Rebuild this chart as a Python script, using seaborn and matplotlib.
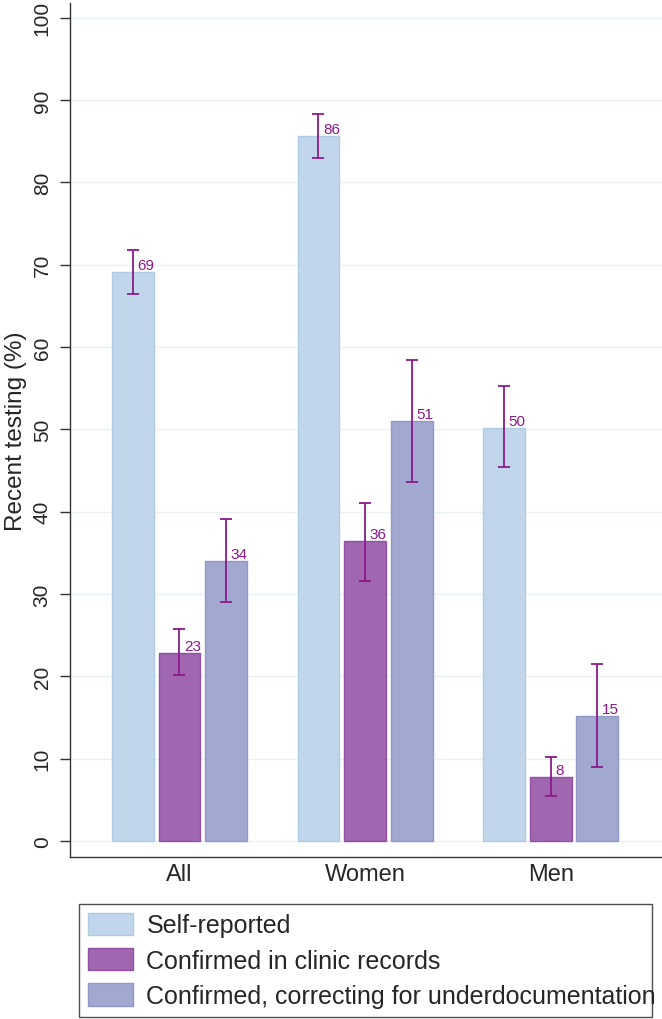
import numpy as np
import pandas as pd
import seaborn as sns
import matplotlib.pyplot as plt

# valori (percentuali e intervalli di confidenza)
groups = ["All", "Women", "Men"]
series = ["Self-reported",
          "Confirmed in clinic records",
          "Confirmed, correcting for underdocumentation"]

self_reported = [69.1, 85.6, 50.2]
self_lo = [66.5, 83.0, 45.4]
self_hi = [71.8, 88.3, 55.3]

clinic = [22.8, 36.4, 7.8]
clinic_lo = [20.2, 31.6, 5.5]
clinic_hi = [25.8, 41.1, 10.2]

corrected = [34.0, 51.0, 15.2]
corrected_lo = [29.0, 43.6, 9.0]
corrected_hi = [39.1, 58.4, 21.5]

yticks = list(range(0, 101, 10))

colors = ["#C1D6EA", "#A066B0", "#A1A9D0"]
edges = ["#B0CBE4", "#9050A4", "#9098C8"]
ci_color = "#8B1A89"

df = pd.DataFrame({
    "group": groups * 3,
    "series": np.repeat(series, 3),
    "value": self_reported + clinic + corrected,
})
lows = [self_lo, clinic_lo, corrected_lo]
highs = [self_hi, clinic_hi, corrected_hi]
vals = [self_reported, clinic, corrected]

sns.set_style("white")
plt.rcParams["font.family"] = ["Liberation Sans", "DejaVu Sans"]

fig = plt.figure(figsize=(6.62, 10.2), dpi=100)
ax = fig.add_axes([70 / 662, 162 / 1020, 1 - 70 / 662, (858 - 4) / 1020])

sns.barplot(data=df, x="group", y="value", hue="series", hue_order=series,
            order=groups, palette=colors, saturation=1, width=0.753, gap=0.1,
            errorbar=None, linewidth=1, ax=ax)

bar_conts = list(ax.containers)[:3]
for i, cont in enumerate(bar_conts):
    for j, bar in enumerate(cont):
        bar.set_edgecolor(edges[i])
        xc = bar.get_x() + bar.get_width() / 2
        v = vals[i][j]
        ax.errorbar(xc, v, yerr=[[v - lows[i][j]], [highs[i][j] - v]],
                    fmt="none", ecolor=ci_color, elinewidth=1.3,
                    capsize=4.3, capthick=1.3, zorder=4)
        ax.text(xc + 0.025, v, f"{v:.0f}", color=ci_color, fontsize=11,
                ha="left", va="bottom", zorder=5)

ax.set_xlim(-0.59, 2.6)
ax.set_ylim(-1.95, 101.8)
ax.set_yticks(yticks)
ax.set_yticklabels([str(t) for t in yticks], rotation=90, va="center",
                   fontsize=15)
ax.tick_params(axis="y", length=7.2, width=1, color="#333333", pad=6, left=True)
ax.tick_params(axis="x", length=0, pad=4, labelsize=17)
ax.yaxis.grid(True, color="#EAF2F3", linewidth=1)
ax.set_axisbelow(True)
ax.set_xlabel("")
ax.set_ylabel("Recent testing (%)", fontsize=17.5, labelpad=4)

for s in ["top", "right"]:
    ax.spines[s].set_visible(False)
for s in ["left", "bottom"]:
    ax.spines[s].set_color("#333333")
    ax.spines[s].set_linewidth(1)

handles, labels = ax.get_legend_handles_labels()
ax.get_legend().remove()
for h, e in zip(handles, edges):
    h.set_edgecolor(e)
leg = fig.legend(handles, labels, loc="upper left",
                 bbox_to_anchor=(79 / 662, 1 - 1019 / 1020, (652 - 79) / 662, 114 / 1020),
                 mode="expand", fontsize=18, frameon=True, fancybox=False,
                 edgecolor="#222222", handlelength=1.8, handleheight=1.0,
                 labelspacing=0.42, borderpad=0.35, handletextpad=0.55,
                 borderaxespad=0)
leg.get_frame().set_linewidth(1)

fig.savefig("out.png", dpi=100)
